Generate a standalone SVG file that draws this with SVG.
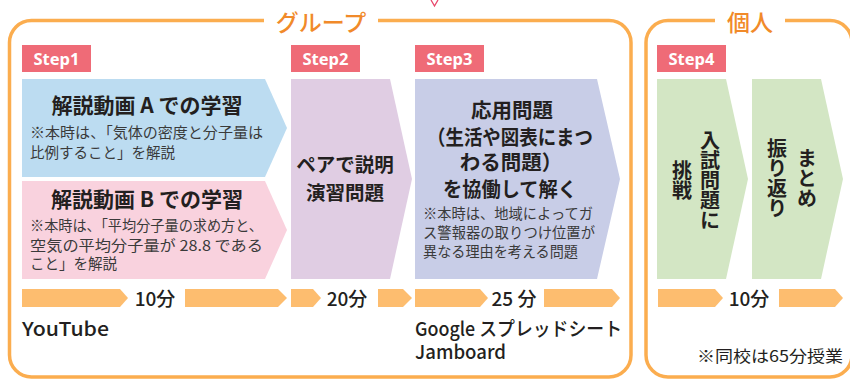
<svg xmlns="http://www.w3.org/2000/svg" width="850" height="380" viewBox="0 0 850 380">
<style>
.frame{fill:none;stroke:#fbad4f;stroke-width:3.5}
.glabel{font-family:"Noto Sans CJK JP","Noto Sans",sans-serif;font-size:23px;font-weight:500;fill:#f18a2a;text-anchor:middle}
.step rect{fill:#ef6b77}
.step text{font-family:"Noto Sans","Noto Sans CJK JP",sans-serif;font-size:16.5px;font-weight:700;fill:#fff;text-anchor:middle}
.t{font-family:"Noto Sans CJK JP",sans-serif;font-weight:700;fill:#231f20;text-anchor:middle}
.s{font-family:"Noto Sans CJK JP",sans-serif;font-size:14.5px;font-weight:400;fill:#3a3a3a}
.v{font-family:"Noto Sans CJK JP",sans-serif;font-size:20px;font-weight:700;fill:#231f20;writing-mode:vertical-rl;text-anchor:middle}
.tl{fill:#fdbd6f}
.min{font-family:"Noto Sans CJK JP",sans-serif;font-size:19px;font-weight:500;fill:#231f20;text-anchor:middle}
.tool{font-family:"Noto Sans CJK JP",sans-serif;font-size:19px;font-weight:500;fill:#231f20}
.note{font-family:"Noto Sans CJK JP",sans-serif;font-size:16px;font-weight:400;fill:#231f20;text-anchor:end}
</style>
<rect width="850" height="380" fill="#fff"/>
<polyline points="431,0 434.5,6 438,0" fill="none" stroke="#e8466a" stroke-width="1.3"/>

<g id="group-frame">
<path class="frame" d="M264 20.5 H31.5 A22 22 0 0 0 9.5 42.5 V355 A22 22 0 0 0 31.5 377 H609 A22 22 0 0 0 631 355 V42.5 A22 22 0 0 0 609 20.5 H378"/>
<text class="glabel" x="321" y="31">グループ</text>
</g>
<g id="individual-frame">
<path class="frame" d="M715 20.5 H668 A22 22 0 0 0 646 42.5 V355 A22 22 0 0 0 668 377 H830 A22 22 0 0 0 852 355 V42.5 A22 22 0 0 0 830 20.5 H785"/>
<text class="glabel" x="750" y="31">個人</text>
</g>

<g id="step1-label" class="step"><rect x="22" y="45" width="69" height="27"/><text x="56.5" y="64.5">Step1</text></g>
<g id="step2-label" class="step"><rect x="291" y="45" width="69" height="27"/><text x="325.5" y="64.5">Step2</text></g>
<g id="step3-label" class="step"><rect x="415" y="45" width="69" height="27"/><text x="449.5" y="64.5">Step3</text></g>
<g id="step4-label" class="step"><rect x="657" y="45" width="69" height="27"/><text x="691.5" y="64.5">Step4</text></g>

<g id="step1-a">
<polygon points="22,79 265,79 287,128 265,177 22,177" fill="#bcdcf1"/>
<text class="t" x="147" y="113" font-size="21">解説動画 A での学習</text>
<text class="s" x="30" y="138" textLength="233" lengthAdjust="spacingAndGlyphs">※本時は、「気体の密度と分子量は</text>
<text class="s" x="30" y="158">比例すること」を解説</text>
</g>
<g id="step1-b">
<polygon points="22,181 265,181 287,230 265,279 22,279" fill="#f9d2de"/>
<text class="t" x="147" y="207" font-size="21">解説動画 B での学習</text>
<text class="s" x="30" y="231" textLength="233" lengthAdjust="spacingAndGlyphs">※本時は、「平均分子量の求め方と、</text>
<text class="s" x="30" y="251" textLength="233" lengthAdjust="spacingAndGlyphs">空気の平均分子量が 28.8 である</text>
<text class="s" x="30" y="269">こと」を解説</text>
</g>
<g id="step2">
<polygon points="291,79 390,79 412,179 390,279 291,279" fill="#e0cde3"/>
<text class="t" x="345" y="172" font-size="19.5">ペアで説明</text>
<text class="t" x="345" y="200" font-size="19.5">演習問題</text>
</g>
<g id="step3">
<polygon points="415,79 597,79 620,179 597,279 415,279" fill="#c8cde7"/>
<text class="t" x="512" y="118" font-size="20.5">応用問題</text>
<text class="t" x="510" y="145" font-size="20.5" textLength="166" lengthAdjust="spacingAndGlyphs">（生活や図表にまつ</text>
<text class="t" x="511" y="170" font-size="20.5">わる問題）</text>
<text class="t" x="510" y="197" font-size="20.5" textLength="134" lengthAdjust="spacingAndGlyphs">を協働して解く</text>
<text class="s" x="423" y="219" textLength="170" lengthAdjust="spacingAndGlyphs">※本時は、地域によってガ</text>
<text class="s" x="423" y="238" textLength="172" lengthAdjust="spacingAndGlyphs">ス警報器の取りつけ位置が</text>
<text class="s" x="423" y="257" textLength="155" lengthAdjust="spacingAndGlyphs">異なる理由を考える問題</text>
</g>
<g id="step4-a">
<polygon points="657,79 726,79 748,179 726,279 657,279" fill="#d3e6c4"/>
<text class="v" x="710" y="180">入試問題に</text>
<text class="v" x="682" y="180">挑戦</text>
</g>
<g id="step4-b">
<polygon points="752,79 821,79 843,179 821,279 752,279" fill="#d3e6c4"/>
<text class="v" x="807" y="178">まとめ</text>
<text class="v" x="777" y="178">振り返り</text>
</g>

<g id="timeline">
<polygon class="tl" points="22,289 120,289 128,298 120,307 22,307"/>
<text class="min" x="155" y="306">10分</text>
<polygon class="tl" points="185,289 278,289 287,298 278,307 185,307"/>
<polygon class="tl" points="291,289 313,289 321,298 313,307 291,307"/>
<text class="min" x="347" y="306">20分</text>
<polygon class="tl" points="378,289 403,289 412,298 403,307 378,307"/>
<polygon class="tl" points="415,289 480,289 488,298 480,307 415,307"/>
<text class="min" x="514" y="306">25 分</text>
<polygon class="tl" points="544,289 612,289 620,298 612,307 544,307"/>
<polygon class="tl" points="658,289 715,289 723,298 715,307 658,307"/>
<text class="min" x="749" y="306">10分</text>
<polygon class="tl" points="779,289 835,289 843,298 835,307 779,307"/>
</g>

<g id="tools">
<text class="tool" x="22" y="336" textLength="87" lengthAdjust="spacingAndGlyphs">YouTube</text>
<text class="tool" x="415" y="336" textLength="207" lengthAdjust="spacingAndGlyphs">Google スプレッドシート</text>
<text class="tool" x="415" y="359" textLength="91" lengthAdjust="spacingAndGlyphs">Jamboard</text>
<text class="note" x="843" y="362" textLength="146" lengthAdjust="spacingAndGlyphs">※同校は65分授業</text>
</g>
</svg>
